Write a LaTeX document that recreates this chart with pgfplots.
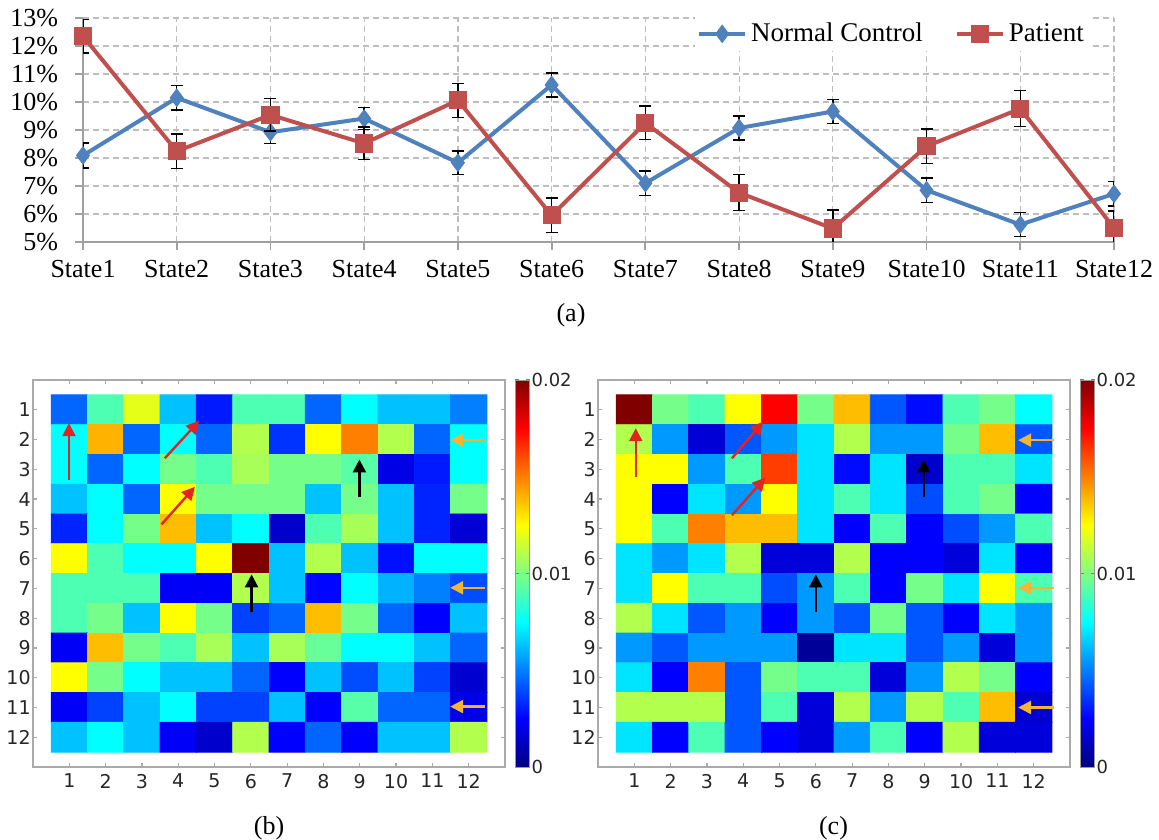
\documentclass[border=0pt]{standalone}
\usepackage{pgfplots}
\pgfplotsset{compat=1.18}
\usepackage{pgfplotstable}
\usepackage{fontspec}
\setmainfont{Liberation Serif}
\newfontfamily\dvs{DejaVu Sans}
\usetikzlibrary{arrows.meta}
\definecolor{ncblue}{RGB}{79,129,189}
\definecolor{ptred}{RGB}{192,80,77}
\definecolor{gridgray}{RGB}{190,190,190}
\definecolor{axgray}{RGB}{160,160,160}
\definecolor{hmgray}{RGB}{170,170,170}
\definecolor{arrred}{RGB}{225,35,35}
\definecolor{arrorange}{RGB}{245,180,50}

\pgfplotstableread{
x nc ncerr pt pterr
1  8.09 0.45 12.35 0.60
2 10.15 0.43  8.24 0.62
3  8.92 0.40  9.54 0.58
4  9.41 0.40  8.52 0.58
5  7.83 0.42 10.06 0.61
6 10.61 0.43  5.95 0.62
7  7.10 0.43  9.25 0.60
8  9.07 0.43  6.76 0.64
9  9.66 0.43  5.48 0.66
10 6.85 0.43  8.42 0.62
11 5.62 0.43  9.76 0.64
12 6.72 0.43  5.50 0.60
}\lineData

\tikzset{arr/.style={line width=1.2pt, -{Triangle[width=6.5pt,length=6.5pt]}}}

\pgfplotsset{
  hm/.style={
    scale only axis, width=236pt, height=193.5pt,
    anchor=south west,
    xmin=0, xmax=13, ymin=0, ymax=13, y dir=reverse,
    xtick={1,...,12}, ytick={1,...,12},
    tick align=inside, major tick length=2.2pt,
    axis line style={hmgray, line width=0.8pt},
    tick style={hmgray, line width=0.6pt},
    ticklabel style={font=\dvs\fontsize{9.5}{10}\selectfont, text=black!85},
    yticklabel style={inner sep=1pt},
    /pgf/number format/assume math mode=true,
    colormap/jet,
    point meta min=0, point meta max=0.02,
    colorbar,
    colorbar style={
      at={(parent axis.north east)}, anchor=north west, xshift=-3.5pt,
      scale only axis, width=7.25pt, height=193.5pt,
      ymin=0, ymax=0.02,
      scaled y ticks=false,
      ytick={0,0.01,0.02}, yticklabels={0,0.01,0.02},
      yticklabel style={font=\dvs\fontsize{9}{10}\selectfont, inner sep=0.8pt, text=black!85},
      major tick length=2pt,
      tick style={black!50, line width=0.5pt},
      axis line style={black!40, line width=0.4pt},
    },
  },
}

\begin{document}
\begin{tikzpicture}
\path[use as bounding box] (0pt,0pt) rectangle (579.5pt,419.5pt);

% ---------- (a) ----------
\begin{axis}[
  at={(41.5pt,298.5pt)}, anchor=south west,
  scale only axis, width=515.5pt, height=112pt,
  xmin=1, xmax=12, ymin=5, ymax=13,
  axis x line*=bottom, axis y line*=left,
  axis line style={axgray, line width=1.1pt},
  xtick={1,...,12},
  xticklabels={State1,State2,State3,State4,State5,State6,State7,State8,State9,State10,State11,State12},
  ytick={5,...,13},
  yticklabels={5\%,6\%,7\%,8\%,9\%,10\%,11\%,12\%,13\%},
  tick align=outside, major tick length=4pt,
  tick style={axgray, line width=0.9pt},
  grid=major,
  major grid style={gridgray, dash pattern=on 3pt off 2pt, line width=0.6pt},
  ticklabel style={font=\fontsize{13}{15}\selectfont},
  xticklabel style={yshift=-1.5pt},
  yticklabel style={xshift=-5pt},
  clip mode=individual,
  legend columns=2,
  legend style={at={(0.977,0.929)}, anchor=east, draw=none, fill=white,
    font=\fontsize{13.5}{15}\selectfont, inner sep=1pt,
    /tikz/every even column/.append style={column sep=14pt}},
  legend image code/.code={\draw[mark repeat=2,mark phase=2] plot coordinates {(0pt,0pt) (11.5pt,0pt) (23pt,0pt)};},
]
\addplot[ncblue, line width=2pt, mark=diamond*, mark size=4.3pt,
  mark options={solid, fill=ncblue, draw=ncblue, line width=0.5pt},
  error bars/.cd, y dir=both, y explicit,
  error bar style={black, line width=0.7pt},
  error mark options={rotate=90, black, mark size=3pt, line width=0.7pt}]
  table[x=x, y=nc, y error=ncerr]{\lineData};
\addlegendentry{Normal Control}
\addplot[ptred, line width=2pt, mark=square*, mark size=4.3pt,
  mark options={solid, fill=ptred, draw=ptred, line width=0.5pt},
  error bars/.cd, y dir=both, y explicit,
  error bar style={black, line width=0.7pt},
  error mark options={rotate=90, black, mark size=3pt, line width=0.7pt}]
  table[x=x, y=pt, y error=pterr]{\lineData};
\addlegendentry{Patient}
\end{axis}
\node[font=\fontsize{13}{15}\selectfont] at (285.5pt,262pt) {(a)};

% ---------- (b) ----------
\begin{axis}[hm, at={(16.5pt,36pt)}]
\addplot[matrix plot*, mesh/cols=12, point meta=explicit] coordinates {
(1,1)[0.0045] (2,1)[0.0090] (3,1)[0.0120] (4,1)[0.0063] (5,1)[0.0030] (6,1)[0.0090] (7,1)[0.0090] (8,1)[0.0045] (9,1)[0.0075] (10,1)[0.0063] (11,1)[0.0063] (12,1)[0.0050]
(1,2)[0.0075] (2,2)[0.0140] (3,2)[0.0045] (4,2)[0.0075] (5,2)[0.0045] (6,2)[0.0110] (7,2)[0.0035] (8,2)[0.0125] (9,2)[0.0150] (10,2)[0.0110] (11,2)[0.0045] (12,2)[0.0075]
(1,3)[0.0075] (2,3)[0.0045] (3,3)[0.0075] (4,3)[0.0098] (5,3)[0.0090] (6,3)[0.0108] (7,3)[0.0098] (8,3)[0.0098] (9,3)[0.0092] (10,3)[0.0020] (11,3)[0.0030] (12,3)[0.0075]
(1,4)[0.0063] (2,4)[0.0075] (3,4)[0.0045] (4,4)[0.0125] (5,4)[0.0098] (6,4)[0.0098] (7,4)[0.0098] (8,4)[0.0063] (9,4)[0.0098] (10,4)[0.0063] (11,4)[0.0032] (12,4)[0.0098]
(1,5)[0.0032] (2,5)[0.0075] (3,5)[0.0098] (4,5)[0.0138] (5,5)[0.0063] (6,5)[0.0075] (7,5)[0.0015] (8,5)[0.0090] (9,5)[0.0108] (10,5)[0.0063] (11,5)[0.0032] (12,5)[0.0017]
(1,6)[0.0125] (2,6)[0.0090] (3,6)[0.0075] (4,6)[0.0075] (5,6)[0.0125] (6,6)[0.0200] (7,6)[0.0063] (8,6)[0.0110] (9,6)[0.0063] (10,6)[0.0028] (11,6)[0.0075] (12,6)[0.0075]
(1,7)[0.0090] (2,7)[0.0090] (3,7)[0.0090] (4,7)[0.0024] (5,7)[0.0024] (6,7)[0.0110] (7,7)[0.0063] (8,7)[0.0026] (9,7)[0.0075] (10,7)[0.0060] (11,7)[0.0050] (12,7)[0.0040]
(1,8)[0.0090] (2,8)[0.0098] (3,8)[0.0063] (4,8)[0.0125] (5,8)[0.0098] (6,8)[0.0038] (7,8)[0.0045] (8,8)[0.0138] (9,8)[0.0098] (10,8)[0.0045] (11,8)[0.0025] (12,8)[0.0063]
(1,9)[0.0024] (2,9)[0.0138] (3,9)[0.0098] (4,9)[0.0090] (5,9)[0.0108] (6,9)[0.0063] (7,9)[0.0108] (8,9)[0.0095] (9,9)[0.0075] (10,9)[0.0075] (11,9)[0.0063] (12,9)[0.0045]
(1,10)[0.0125] (2,10)[0.0098] (3,10)[0.0075] (4,10)[0.0063] (5,10)[0.0063] (6,10)[0.0045] (7,10)[0.0025] (8,10)[0.0063] (9,10)[0.0040] (10,10)[0.0063] (11,10)[0.0038] (12,10)[0.0016]
(1,11)[0.0024] (2,11)[0.0038] (3,11)[0.0063] (4,11)[0.0075] (5,11)[0.0038] (6,11)[0.0038] (7,11)[0.0063] (8,11)[0.0025] (9,11)[0.0092] (10,11)[0.0045] (11,11)[0.0045] (12,11)[0.0020]
(1,12)[0.0063] (2,12)[0.0075] (3,12)[0.0063] (4,12)[0.0024] (5,12)[0.0015] (6,12)[0.0110] (7,12)[0.0025] (8,12)[0.0045] (9,12)[0.0025] (10,12)[0.0063] (11,12)[0.0063] (12,12)[0.0110]
};
\draw[arr, arrred] (axis cs:0.99,3.37) -- (axis cs:0.99,1.45);
\draw[arr, arrred] (axis cs:3.63,2.63) -- (axis cs:4.58,1.37);
\draw[arr, arrred] (axis cs:3.54,4.85) -- (axis cs:4.46,3.59);
\draw[arr, black] (axis cs:6.02,7.8) -- (axis cs:6.02,6.53);
\draw[arr, black] (axis cs:8.99,3.93) -- (axis cs:8.99,2.67);
\draw[arr, arrorange] (axis cs:12.46,2.02) -- (axis cs:11.49,2.02);
\draw[arr, arrorange] (axis cs:12.46,6.98) -- (axis cs:11.49,6.98);
\draw[arr, arrorange] (axis cs:12.46,10.97) -- (axis cs:11.49,10.97);
\end{axis}
\node[font=\fontsize{13}{15}\selectfont] at (134.5pt,5.5pt) {(b)};

% ---------- (c) ----------
\begin{axis}[hm, at={(299pt,36pt)}]
\addplot[matrix plot*, mesh/cols=12, point meta=explicit] coordinates {
(1,1)[0.0200] (2,1)[0.0098] (3,1)[0.0090] (4,1)[0.0125] (5,1)[0.0175] (6,1)[0.0098] (7,1)[0.0138] (8,1)[0.0042] (9,1)[0.0027] (10,1)[0.0090] (11,1)[0.0098] (12,1)[0.0075]
(1,2)[0.0110] (2,2)[0.0055] (3,2)[0.0017] (4,2)[0.0042] (5,2)[0.0055] (6,2)[0.0070] (7,2)[0.0110] (8,2)[0.0055] (9,2)[0.0055] (10,2)[0.0098] (11,2)[0.0138] (12,2)[0.0042]
(1,3)[0.0125] (2,3)[0.0125] (3,3)[0.0055] (4,3)[0.0090] (5,3)[0.0163] (6,3)[0.0070] (7,3)[0.0027] (8,3)[0.0070] (9,3)[0.0015] (10,3)[0.0090] (11,3)[0.0090] (12,3)[0.0070]
(1,4)[0.0125] (2,4)[0.0025] (3,4)[0.0070] (4,4)[0.0055] (5,4)[0.0125] (6,4)[0.0070] (7,4)[0.0090] (8,4)[0.0070] (9,4)[0.0040] (10,4)[0.0090] (11,4)[0.0098] (12,4)[0.0025]
(1,5)[0.0125] (2,5)[0.0090] (3,5)[0.0150] (4,5)[0.0138] (5,5)[0.0138] (6,5)[0.0070] (7,5)[0.0025] (8,5)[0.0090] (9,5)[0.0025] (10,5)[0.0040] (11,5)[0.0055] (12,5)[0.0090]
(1,6)[0.0070] (2,6)[0.0055] (3,6)[0.0070] (4,6)[0.0110] (5,6)[0.0018] (6,6)[0.0018] (7,6)[0.0110] (8,6)[0.0025] (9,6)[0.0025] (10,6)[0.0018] (11,6)[0.0070] (12,6)[0.0025]
(1,7)[0.0070] (2,7)[0.0125] (3,7)[0.0090] (4,7)[0.0090] (5,7)[0.0040] (6,7)[0.0055] (7,7)[0.0090] (8,7)[0.0025] (9,7)[0.0098] (10,7)[0.0070] (11,7)[0.0125] (12,7)[0.0090]
(1,8)[0.0110] (2,8)[0.0070] (3,8)[0.0042] (4,8)[0.0055] (5,8)[0.0025] (6,8)[0.0055] (7,8)[0.0042] (8,8)[0.0098] (9,8)[0.0042] (10,8)[0.0025] (11,8)[0.0070] (12,8)[0.0055]
(1,9)[0.0055] (2,9)[0.0042] (3,9)[0.0055] (4,9)[0.0055] (5,9)[0.0055] (6,9)[0.0005] (7,9)[0.0070] (8,9)[0.0070] (9,9)[0.0042] (10,9)[0.0055] (11,9)[0.0018] (12,9)[0.0055]
(1,10)[0.0070] (2,10)[0.0025] (3,10)[0.0150] (4,10)[0.0042] (5,10)[0.0098] (6,10)[0.0090] (7,10)[0.0090] (8,10)[0.0018] (9,10)[0.0055] (10,10)[0.0110] (11,10)[0.0098] (12,10)[0.0025]
(1,11)[0.0110] (2,11)[0.0110] (3,11)[0.0110] (4,11)[0.0042] (5,11)[0.0090] (6,11)[0.0018] (7,11)[0.0110] (8,11)[0.0055] (9,11)[0.0110] (10,11)[0.0090] (11,11)[0.0138] (12,11)[0.0016]
(1,12)[0.0070] (2,12)[0.0025] (3,12)[0.0090] (4,12)[0.0042] (5,12)[0.0025] (6,12)[0.0018] (7,12)[0.0055] (8,12)[0.0090] (9,12)[0.0025] (10,12)[0.0110] (11,12)[0.0018] (12,12)[0.0018]
};
\draw[arr, arrred] (axis cs:1.04,3.25) -- (axis cs:1.04,1.62);
\draw[arr, arrred] (axis cs:3.69,2.63) -- (axis cs:4.55,1.40);
\draw[arr, arrred] (axis cs:3.69,4.54) -- (axis cs:4.61,3.28);
\draw[arr, black] (axis cs:6.0,7.8) -- (axis cs:6.0,6.53);
\draw[arr, black] (axis cs:8.97,3.93) -- (axis cs:8.97,2.67);
\draw[arr, arrorange] (axis cs:12.57,2.02) -- (axis cs:11.57,2.02);
\draw[arr, arrorange] (axis cs:12.57,6.98) -- (axis cs:11.57,6.98);
\draw[arr, arrorange] (axis cs:12.57,11.0) -- (axis cs:11.57,11.0);
\end{axis}
\node[font=\fontsize{13}{15}\selectfont] at (416.75pt,5.5pt) {(c)};
\end{tikzpicture}
\end{document}
